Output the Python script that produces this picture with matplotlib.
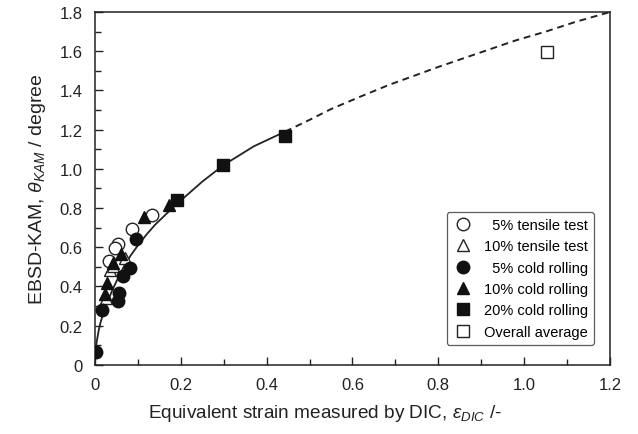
import matplotlib
matplotlib.use('Agg')
import matplotlib.pyplot as plt
from matplotlib.ticker import MultipleLocator, FuncFormatter

plt.rcParams['font.family'] = ['Liberation Sans', 'DejaVu Sans']
plt.rcParams['mathtext.fontset'] = 'custom'
plt.rcParams['mathtext.rm'] = 'Liberation Sans'
plt.rcParams['mathtext.it'] = 'Liberation Sans:italic'

# 5% tensile test (open circles)
t5_x = [0.133, 0.085, 0.054, 0.047, 0.033]
t5_y = [0.762, 0.694, 0.619, 0.597, 0.529]

# 10% tensile test (open triangles)
t10_x = [0.070, 0.035, 0.026, 0.042]
t10_y = [0.546, 0.486, 0.340, 0.505]

# 5% cold rolling (filled circles)
r5_x = [0.002, 0.016, 0.054, 0.055, 0.066, 0.082, 0.096]
r5_y = [0.065, 0.282, 0.325, 0.367, 0.452, 0.495, 0.644]

# 10% cold rolling (filled triangles)
r10_x = [0.024, 0.028, 0.041, 0.060, 0.115, 0.172]
r10_y = [0.359, 0.418, 0.520, 0.563, 0.753, 0.818]

# 20% cold rolling (filled squares)
r20_x = [0.192, 0.299, 0.443]
r20_y = [0.843, 1.019, 1.167]

# overall average
avg_x = [1.054]
avg_y = [1.595]

# fitted curve (solid part and dashed extrapolation)
fit_x = [0.0, 0.002, 0.004, 0.008, 0.012, 0.02, 0.027, 0.04, 0.054, 0.068, 0.082, 0.10,
         0.12, 0.14, 0.159, 0.18, 0.198, 0.25, 0.30, 0.37, 0.443]
fit_y = [0.06, 0.09, 0.12, 0.17, 0.21, 0.27, 0.31, 0.38, 0.445, 0.505, 0.555, 0.61,
         0.665, 0.715, 0.755, 0.80, 0.835, 0.935, 1.02, 1.115, 1.19]
ext_x = [0.443, 0.50, 0.55, 0.62, 0.687, 0.75, 0.80, 0.86, 0.92, 0.98, 1.05, 1.12, 1.20]
ext_y = [1.19, 1.25, 1.305, 1.37, 1.43, 1.48, 1.52, 1.565, 1.61, 1.655, 1.70, 1.75, 1.80]

fig = plt.figure(figsize=(6.38, 4.35), dpi=100)
ax = fig.add_axes([0.149, 0.159, 0.807, 0.811])

ax.plot(fit_x, fit_y, color='#222222', lw=1.3, zorder=2)
ax.plot(ext_x, ext_y, color='#222222', lw=1.4, ls=(0, (3.5, 2.5)), zorder=2)

ms = 9
ax.plot(t5_x, t5_y, 'o', mfc='white', mec='#222222', mew=1.0, ms=ms, label='  5% tensile test', zorder=3)
ax.plot(t10_x, t10_y, '^', mfc='white', mec='#222222', mew=1.0, ms=ms, label='10% tensile test', zorder=3)
ax.plot(r5_x, r5_y, 'o', color='#111111', ms=ms, label='  5% cold rolling', zorder=4)
ax.plot(r10_x, r10_y, '^', color='#111111', ms=ms, label='10% cold rolling', zorder=4)
ax.plot(r20_x, r20_y, 's', color='#111111', ms=8.5, label='20% cold rolling', zorder=4)
ax.plot(avg_x, avg_y, 's', mfc='white', mec='#222222', mew=1.0, ms=9, label='Overall average', zorder=4)

ax.set_xlim(0, 1.2)
ax.set_ylim(0, 1.8)
ax.xaxis.set_major_locator(MultipleLocator(0.2))
ax.xaxis.set_minor_locator(MultipleLocator(0.1))
ax.yaxis.set_major_locator(MultipleLocator(0.2))
ax.yaxis.set_minor_locator(MultipleLocator(0.1))
fmt = FuncFormatter(lambda v, p: '0' if abs(v) < 1e-9 else '%.1f' % v)
ax.xaxis.set_major_formatter(fmt)
ax.yaxis.set_major_formatter(fmt)
ax.tick_params(which='both', direction='in', top=False, right=False, colors='#222222',
               labelsize=12, width=1.0)
ax.tick_params(which='major', length=6, pad=9)
ax.tick_params(which='minor', length=4)
for s in ax.spines.values():
    s.set_linewidth(1.1)
    s.set_color('#222222')

ax.set_xlabel(r'Equivalent strain measured by DIC, $\varepsilon_{DIC}$ /-', fontsize=13.7,
              color='#222222')
ax.xaxis.set_label_coords(0.447, -0.105)
ax.set_ylabel(r'EBSD-KAM, $\theta_{KAM}$ / degree', fontsize=14, color='#222222', labelpad=8)

leg = ax.legend(loc='lower right', bbox_to_anchor=(0.984, 0.035), fontsize=10.5, frameon=True,
                fancybox=True, edgecolor='#333333', handletextpad=0.7, borderpad=0.45,
                labelspacing=0.5, handlelength=1.4)
leg.get_frame().set_linewidth(0.9)

fig.savefig('out.png', dpi=100)
